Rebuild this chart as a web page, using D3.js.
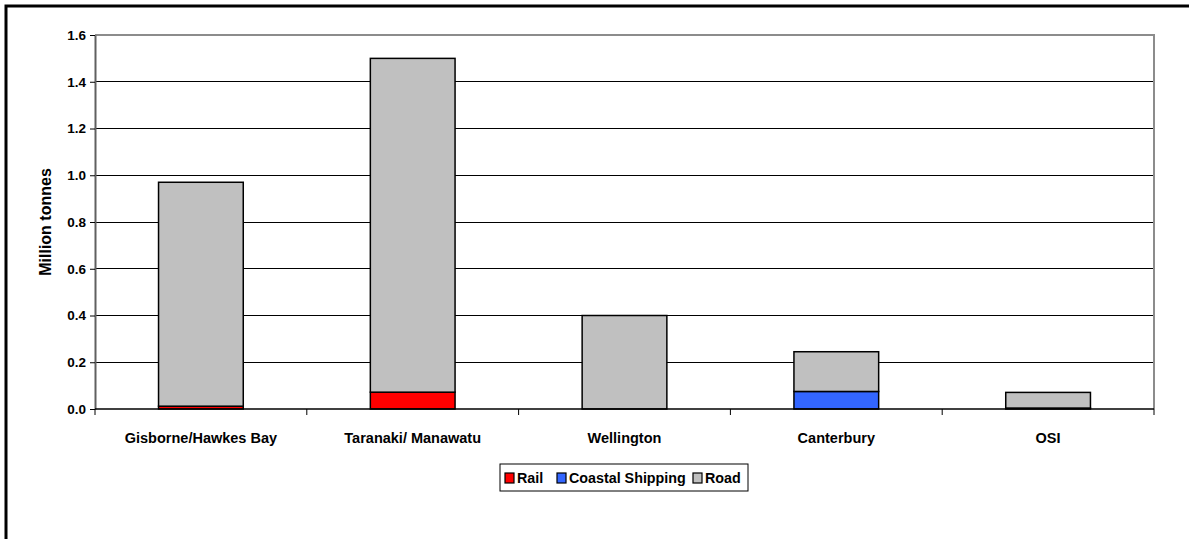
<!DOCTYPE html>
<html><head><meta charset="utf-8">
<script src="https://cdn.jsdelivr.net/npm/d3@7"></script>
<style>body{margin:0;background:#fff}svg{display:block}text{font-family:Arial,"Liberation Sans",sans-serif;font-weight:bold}</style>
</head><body>
<svg id="c" width="1189" height="539"></svg>
<script>
const categories = ["Gisborne/Hawkes Bay","Taranaki/ Manawatu","Wellington","Canterbury","OSI"];
const seriesNames = ["Rail","Coastal Shipping","Road"];
const rail =    [0.012, 0.072, 0, 0, 0.004];
const coastal = [0, 0, 0, 0.075, 0];
const road =    [0.958, 1.428, 0.40, 0.170, 0.067];
const yTicks = [0,0.2,0.4,0.6,0.8,1.0,1.2,1.4,1.6];
const colors = ["#FF0000","#3366FF","#C0C0C0"];

const svg = d3.select("#c");
svg.append("rect").attr("x",6).attr("y",6).attr("width",1300).attr("height",700)
  .attr("fill","none").attr("stroke","#000").attr("stroke-width",3);

const L=95,R=1154,T=35,B=409;
const x = d3.scaleBand().domain(categories).range([L,R]).paddingInner(0.6).paddingOuter(0.3);
const xb = d3.scaleBand().domain(categories).range([L,R]);
const y = d3.scaleLinear().domain([0,1.6]).range([B,T]);

// gridlines
svg.append("g").selectAll("line").data(yTicks.filter(d=>d>0&&d<1.6)).join("line")
  .attr("x1",L).attr("x2",R).attr("y1",d=>y(d)).attr("y2",d=>y(d))
  .attr("stroke","#000").attr("stroke-width",1).attr("shape-rendering","crispEdges");
// plot border top/right
svg.append("path").attr("d",`M${L},${T}H${R}V${B}`).attr("fill","none").attr("stroke","#8c8c8c").attr("stroke-width",2);

const data = categories.map((c,i)=>({cat:c, Rail:rail[i], "Coastal Shipping":coastal[i], Road:road[i]}));
const stack = d3.stack().keys(seriesNames)(data);
svg.append("g").selectAll("g").data(stack).join("g").attr("fill",(d,i)=>colors[i])
  .selectAll("rect").data(d=>d.filter(p=>p[1]-p[0]>0)).join("rect")
  .attr("x",d=>x(d.data.cat)).attr("width",x.bandwidth())
  .attr("y",d=>y(d[1])).attr("height",d=>y(d[0])-y(d[1]))
  .attr("stroke","#000").attr("stroke-width",1.5);

// y axis
const ya = svg.append("g").attr("transform",`translate(${L},0)`)
  .call(d3.axisLeft(y).tickValues(yTicks).tickFormat(d3.format(".1f")).tickSize(5).tickSizeOuter(0));
ya.select(".domain").attr("stroke","#606060").attr("stroke-width",2);
ya.selectAll(".tick line").attr("stroke","#000");
ya.selectAll("text").attr("font-size",13.5).attr("font-weight","bold").attr("font-family","Arial, Liberation Sans, sans-serif").attr("fill","#000").attr("dx",-1);

// x axis
const xa = svg.append("g").attr("transform",`translate(0,${B})`);
xa.append("line").attr("x1",L).attr("x2",R).attr("stroke","#000").attr("stroke-width",1.5);
xa.selectAll("line.t").data(d3.range(categories.length+1)).join("line").attr("class","t")
  .attr("x1",i=>L+i*xb.step()).attr("x2",i=>L+i*xb.step()).attr("y1",0).attr("y2",6)
  .attr("stroke","#000");
xa.selectAll("text").data(categories).join("text")
  .attr("x",d=>xb(d)+xb.bandwidth()/2).attr("y",34).attr("text-anchor","middle")
  .attr("font-size",14.5).text(d=>d);

svg.append("text").attr("transform","translate(51,222) rotate(-90)").attr("text-anchor","middle")
  .attr("font-size",16).text("Million tonnes");

// legend
const lg = svg.append("g");
lg.append("rect").attr("x",500).attr("y",464).attr("width",248).attr("height",27).attr("fill","#fff").attr("stroke","#000").attr("stroke-width",1);
const lx = [505,557,693];
seriesNames.forEach((s,i)=>{
  lg.append("rect").attr("x",lx[i]).attr("y",473).attr("width",9).attr("height",10).attr("fill",colors[i]).attr("stroke","#000").attr("stroke-width",1.2);
  lg.append("text").attr("x",lx[i]+12).attr("y",483).attr("font-size",14.3).text(s);
});
</script>
</body></html>
